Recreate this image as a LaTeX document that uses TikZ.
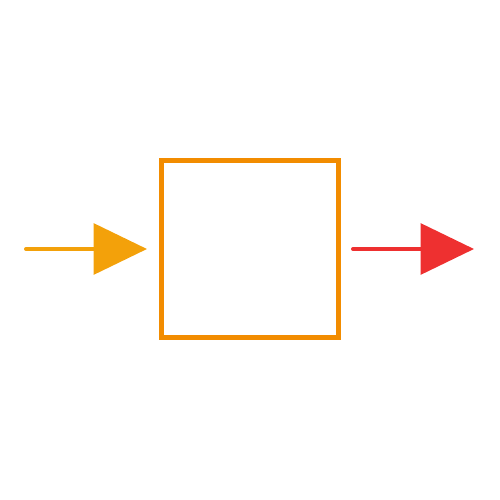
\documentclass[tikz,border=0pt]{standalone}
\usetikzlibrary{arrows.meta}

\tikzset{every picture/.style={line width=0.75pt}}

\begin{document}
\begin{tikzpicture}[x=0.75pt,y=0.75pt,yscale=-1,xscale=1]
%set diagram size to 500 x 500
\useasboundingbox (0,0) rectangle (500,500);

%Shape: Square [id:blk]
\node [draw={rgb, 255:red, 242; green, 140; blue, 0 }, line width=3.75pt, minimum size=132.75pt, inner sep=0pt] (blk) at (250,249) {};

%Coordinates for arrow ends
\coordinate (inStart) at (26,249) ;
\coordinate (inEnd) at (147,249) ;
\coordinate (outStart) at (353,249) ;
\coordinate (outEnd) at (474,249) ;

%Straight Lines [id:in]
\draw [color={rgb, 255:red, 243; green, 161; blue, 10 }, line width=3pt, line cap=round, -{Triangle[length=40pt,width=38pt,line join=miter]}]   (inStart) -- (inEnd) ;
%Straight Lines [id:out]
\draw [color={rgb, 255:red, 238; green, 48; blue, 48 }, line width=3pt, line cap=round, -{Triangle[length=40pt,width=38pt,line join=miter]}]   (outStart) -- (outEnd) ;

\end{tikzpicture}
\end{document}
